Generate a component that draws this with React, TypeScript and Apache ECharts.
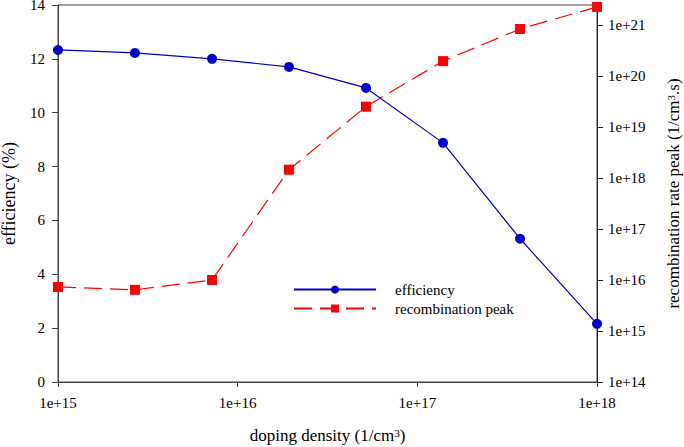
import React, { useEffect, useRef } from "react";
import * as echarts from "echarts";

const dopingDensity = [1e15, 2.68e15, 7.2e15, 1.93e16, 5.18e16, 1.39e17, 3.73e17, 1e18];
const efficiency = [12.33, 12.22, 12.0, 11.7, 10.92, 8.88, 5.32, 2.16];
const recombinationPeak = [7.3e15, 6.4e15, 1.0e16, 1.45e18, 2.5e19, 1.95e20, 8.3e20, 2.25e21];

const FONT = "'Liberation Serif', 'Times New Roman', serif";

export default function App() {
  const ref = useRef<HTMLDivElement>(null);
  useEffect(() => {
    if (!ref.current) return;
    const chart = echarts.init(ref.current, undefined, { renderer: "svg" });
    const axisColor = "#444";
    const sup = { fontFamily: FONT, fontSize: 11, verticalAlign: "top", lineHeight: 11, color: "#000" };
    chart.setOption({
      animation: false,
      textStyle: { fontFamily: FONT },
      grid: {
        left: 58,
        right: 87,
        top: 5,
        bottom: 65,
        show: true,
        borderColor: axisColor,
        borderWidth: 1,
        backgroundColor: "transparent",
        containLabel: false,
        outerBoundsMode: "none",
      },
      legend: {
        left: 288,
        top: 277,
        orient: "vertical",
        itemWidth: 82,
        itemHeight: 10,
        itemGap: 4,
        textStyle: { fontFamily: FONT, fontSize: 15, color: "#000", padding: [0, 0, 0, 14] },
        data: ["efficiency", "recombination peak"],
      },
      xAxis: {
        type: "log",
        logBase: 10,
        min: 1e15,
        max: 1e18,
        name: "doping density (1/cm{sup|3})",
        nameLocation: "middle",
        nameGap: 45,
        nameTextStyle: { fontFamily: FONT, fontSize: 17, color: "#000", rich: { sup } },
        axisLine: { show: true, onZero: false, lineStyle: { color: axisColor, width: 1 } },
        axisTick: { show: true, length: 5, lineStyle: { color: axisColor } },
        axisLabel: {
          fontFamily: FONT,
          fontSize: 15,
          color: "#000",
          margin: 13,
          formatter: (v: number) => "1e+" + Math.round(Math.log10(v)),
        },
        splitLine: { show: false },
        minorTick: { show: false },
      },
      yAxis: [
        {
          type: "value",
          min: 0,
          max: 14,
          interval: 2,
          position: "left",
          name: "efficiency (%)",
          nameLocation: "middle",
          nameRotate: 90,
          nameGap: 40,
          nameTextStyle: { fontFamily: FONT, fontSize: 18, color: "#000" },
          axisLine: { show: true, lineStyle: { color: axisColor, width: 1 } },
          axisTick: { show: true, length: 6, lineStyle: { color: axisColor } },
          axisLabel: { fontFamily: FONT, fontSize: 15, color: "#000", margin: 13 },
          splitLine: { show: false },
        },
        {
          type: "value",
          min: 14,
          max: 21.39,
          interval: 1,
          position: "right",
          name: "recombination rate peak (1/cm{sup|3}.s)",
          nameLocation: "middle",
          nameRotate: 90,
          nameGap: 68,
          nameTextStyle: { fontFamily: FONT, fontSize: 17, color: "#000", rich: { sup } },
          axisLine: { show: true, lineStyle: { color: "#222", width: 1 } },
          axisTick: { show: true, length: 6, lineStyle: { color: "#222" } },
          axisLabel: {
            fontFamily: FONT,
            fontSize: 15,
            color: "#000",
            margin: 11,
            showMaxLabel: false,
            formatter: (v: number) => (Number.isInteger(v) ? "1e+" + v : ""),
          },
          splitLine: { show: false },
        },
      ],
      series: [
        {
          name: "efficiency",
          type: "line",
          xAxisIndex: 0,
          yAxisIndex: 0,
          data: dopingDensity.map((x, i) => [x, efficiency[i]]),
          symbol: "circle",
          symbolSize: 10,
          lineStyle: { color: "#0000cc", width: 1.2 },
          itemStyle: { color: "#0000cc" },
          z: 3,
        },
        {
          name: "recombination peak",
          type: "line",
          xAxisIndex: 0,
          yAxisIndex: 1,
          data: dopingDensity.map((x, i) => [x, Math.log10(recombinationPeak[i])]),
          symbol: "rect",
          symbolSize: 10,
          lineStyle: { color: "#ff0000", width: 1.2, type: [18, 8] },
          itemStyle: { color: "#ff0000" },
          z: 2,
        },
      ],
    });
    return () => chart.dispose();
  }, []);
  return <div ref={ref} style={{ width: 684, height: 447, position: "absolute", left: 0, top: 0 }} />;
}
